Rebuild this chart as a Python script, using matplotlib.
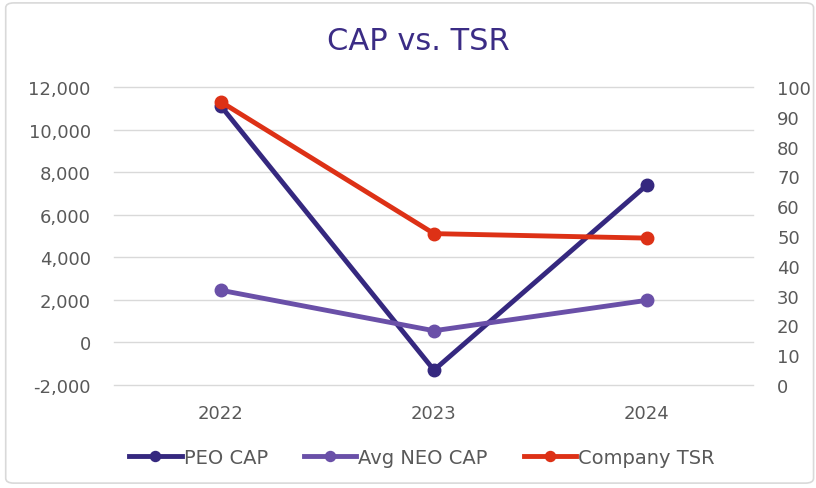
import matplotlib
matplotlib.use("Agg")
import matplotlib.pyplot as plt
from matplotlib.patches import FancyBboxPatch

years = ["2022", "2023", "2024"]
peo_cap = [11100, -1300, 7400]
avg_neo_cap = [2450, 550, 1980]
company_tsr = [95.0, 50.8, 49.3]

left_ticks = list(range(-2000, 12001, 2000))
right_ticks = list(range(0, 101, 10))

c_peo = "#35287F"
c_neo = "#6A50A8"
c_tsr = "#DD3116"
c_text = "#595959"

plt.rcParams['font.family'] = ['DejaVu Sans']

fig = plt.figure(figsize=(8.16, 4.89), dpi=100)
fig.patches.append(FancyBboxPatch((0.007, 0.01), 0.99, 0.982, boxstyle="round,pad=0,rounding_size=0.01",
                                  transform=fig.transFigure, fill=False, edgecolor="#D9D9D9", linewidth=1.2))
ax = fig.add_axes([0.1403, 0.2106, 0.7831, 0.6094])
ax2 = ax.twinx()

x = list(range(len(years)))
l1, = ax.plot(x, peo_cap, color=c_peo, lw=3.5, marker='o', ms=9, label="PEO CAP", zorder=3)
l2, = ax.plot(x, avg_neo_cap, color=c_neo, lw=3.5, marker='o', ms=9, label="Avg NEO CAP", zorder=3)
l3, = ax2.plot(x, company_tsr, color=c_tsr, lw=3.5, marker='o', ms=9, label="Company TSR", zorder=3)

ax.set_xlim(-0.5, 2.5)
ax.set_ylim(-2000, 12000)
ax2.set_ylim(0, 100)
ax.set_yticks(left_ticks)
ax.set_yticklabels([f"{v:,}" for v in left_ticks])
ax2.set_yticks(right_ticks)
ax.set_xticks(x)
ax.set_xticklabels(years)
ax.grid(axis='y', color="#D9D9D9", lw=1)
for gl in ax.get_ygridlines():
    gl.set_clip_on(False)
ax.set_axisbelow(True)
for a in (ax, ax2):
    for s in a.spines.values():
        s.set_visible(False)
    a.tick_params(length=0, labelsize=13, labelcolor=c_text)
ax.tick_params(axis='y', pad=17)
ax2.tick_params(axis='y', pad=17)
ax.tick_params(axis='x', pad=14)

fig.text(0.513, 0.915, "CAP vs. TSR", ha='center', va='center', fontsize=22, color="#3B2C85")

fig.legend(handles=[l1, l2, l3], loc='center', bbox_to_anchor=(0.517, 0.063), ncol=3, frameon=False,
           fontsize=14, labelcolor=c_text, handlelength=2.7, handletextpad=0.1, columnspacing=1.85,
           markerscale=0.8)

fig.savefig("out.png", dpi=100)
